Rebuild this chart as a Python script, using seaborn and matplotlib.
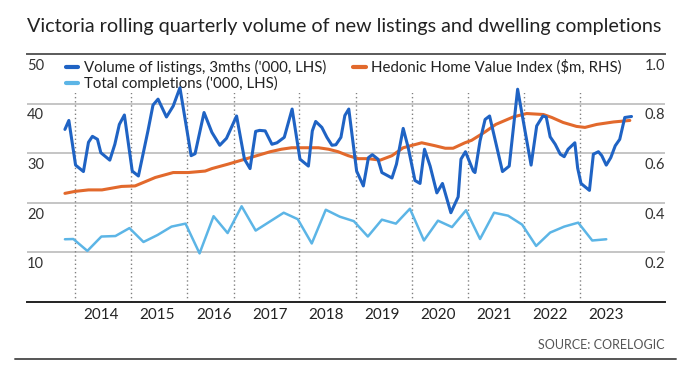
import pandas as pd
import matplotlib
matplotlib.use('Agg')
import matplotlib.pyplot as plt
from matplotlib.lines import Line2D
import seaborn as sns

# Values (x as fractional years)
listing_dates = [2013.82, 2013.89, 2014.01, 2014.15, 2014.24, 2014.31, 2014.40, 2014.46, 2014.62, 2014.71,
                 2014.79, 2014.88, 2015.02, 2015.13, 2015.30, 2015.39, 2015.48, 2015.63, 2015.75, 2015.87,
                 2016.07, 2016.14, 2016.30, 2016.44, 2016.58, 2016.70, 2016.88, 2017.02, 2017.12, 2017.22,
                 2017.29, 2017.39, 2017.51, 2017.60, 2017.73, 2017.87, 2018.01, 2018.16, 2018.23, 2018.29,
                 2018.40, 2018.49, 2018.58, 2018.65, 2018.74, 2018.81, 2018.88, 2019.02, 2019.14, 2019.23,
                 2019.30, 2019.40, 2019.47, 2019.65, 2019.73, 2019.85, 2019.94, 2020.06, 2020.15, 2020.23,
                 2020.33, 2020.45, 2020.55, 2020.70, 2020.83, 2020.88, 2020.96, 2021.10, 2021.13, 2021.22,
                 2021.31, 2021.39, 2021.62, 2021.74, 2021.89, 2022.13, 2022.23, 2022.34, 2022.40, 2022.47,
                 2022.56, 2022.65, 2022.72, 2022.79, 2022.91, 2022.96, 2023.02, 2023.17, 2023.24, 2023.33,
                 2023.39, 2023.47, 2023.55, 2023.63, 2023.71, 2023.80, 2023.92]
listings = [34.8, 36.6, 27.6, 26.3, 32.2, 33.4, 32.8, 30.1, 28.6, 31.8,
            35.8, 37.7, 26.4, 25.4, 34.5, 39.7, 40.9, 37.3, 39.5, 43.2,
            29.5, 29.9, 38.2, 34.2, 31.6, 33.0, 37.5, 28.8, 26.9, 34.4,
            34.6, 34.5, 31.8, 32.1, 33.2, 38.9, 28.8, 27.4, 34.5, 36.4,
            35.2, 33.2, 31.6, 31.7, 33.2, 37.6, 38.9, 26.4, 23.4, 29.1,
            29.7, 28.8, 26.1, 25.0, 27.8, 35.0, 31.1, 24.5, 23.9, 30.8,
            27.4, 22.0, 23.9, 18.0, 21.2, 28.8, 30.3, 26.4, 26.1, 32.5,
            36.8, 37.5, 26.3, 27.4, 42.9, 27.6, 35.5, 37.5, 37.3, 33.3,
            31.8, 29.8, 29.3, 30.8, 32.1, 27.0, 23.9, 22.5, 29.8, 30.3,
            29.5, 27.6, 29.1, 31.5, 32.8, 37.2, 37.4]

completion_dates = [2013.82, 2013.97, 2014.22, 2014.47, 2014.72, 2014.97, 2015.22, 2015.47, 2015.72, 2015.97,
                    2016.22, 2016.47, 2016.72, 2016.97, 2017.22, 2017.47, 2017.72, 2017.97, 2018.22, 2018.47,
                    2018.72, 2018.97, 2019.22, 2019.47, 2019.72, 2019.97, 2020.22, 2020.47, 2020.72, 2020.97,
                    2021.22, 2021.47, 2021.72, 2021.97, 2022.22, 2022.47, 2022.72, 2022.97, 2023.22, 2023.47]
completions = [12.65, 12.7, 10.3, 13.2, 13.3, 14.9, 12.1, 13.5, 15.2, 15.8,
               9.8, 17.3, 13.9, 19.3, 14.4, 16.2, 18.0, 16.7, 11.8, 18.6,
               17.2, 16.3, 13.2, 16.6, 15.8, 18.8, 12.4, 16.4, 15.1, 18.5,
               12.7, 18.0, 17.4, 15.6, 11.3, 14.0, 15.2, 16.0, 12.4, 12.65]

hedonic_dates = [2013.82, 2014.00, 2014.24, 2014.48, 2014.83, 2015.07, 2015.43, 2015.75, 2016.02, 2016.32,
                 2016.44, 2016.73, 2017.03, 2017.33, 2017.48, 2017.68, 2017.86, 2018.10, 2018.34, 2018.52,
                 2018.69, 2018.87, 2019.05, 2019.23, 2019.44, 2019.65, 2019.85, 2020.18, 2020.42, 2020.60,
                 2020.74, 2020.95, 2021.07, 2021.31, 2021.50, 2021.81, 2022.05, 2022.35, 2022.50, 2022.70,
                 2022.94, 2023.09, 2023.30, 2023.60, 2023.89]
hedonic = [0.438, 0.446, 0.452, 0.452, 0.466, 0.468, 0.502, 0.522, 0.522, 0.528,
           0.538, 0.556, 0.576, 0.596, 0.606, 0.616, 0.622, 0.622, 0.622, 0.616,
           0.606, 0.590, 0.578, 0.578, 0.572, 0.590, 0.622, 0.642, 0.630, 0.620,
           0.620, 0.642, 0.652, 0.686, 0.716, 0.746, 0.760, 0.756, 0.744, 0.724,
           0.708, 0.704, 0.716, 0.726, 0.732]

year_labels = ['2014', '2015', '2016', '2017', '2018', '2019', '2020', '2021', '2022', '2023']
year_separators = [2014, 2015, 2016, 2016.84, 2018, 2019, 2020, 2021, 2022, 2023]
left_ticks = [50, 40, 30, 20, 10]
right_ticks = [1.0, 0.8, 0.6, 0.4, 0.2]

BLUE = '#1f63c4'
LIGHT_BLUE = '#5cb5e6'
ORANGE = '#e2692c'
TEXT = '#222222'

listing_df = pd.DataFrame({'date': listing_dates, 'value': listings})
completion_df = pd.DataFrame({'date': completion_dates, 'value': completions})
hedonic_df = pd.DataFrame({'date': hedonic_dates, 'value': hedonic})

sns.set_style('white')
plt.rcParams['font.family'] = ['Lato', 'DejaVu Sans']

fig = plt.figure(figsize=(7, 3.79), dpi=100)
ax = fig.add_axes([27 / 700, 77 / 379, 638 / 700, 248 / 379])
ax2 = ax.twinx()
# left axis (blue lines, legend) drawn above the right axis (orange)
ax.set_zorder(ax2.get_zorder() + 1)
ax.patch.set_visible(False)

ax.set_xlim(2013.144, 2024.517)
ax.set_ylim(0, 50)
ax2.set_ylim(0, 1)

# grid and year separators on the bottom layer
for v in right_ticks[1:]:
    ax2.axhline(v, color='#b5b5b5', lw=1.1, zorder=0)
ax2.vlines(year_separators, 0, 0.903, colors='#808080', linestyles=(0, (1, 2)), lw=1, zorder=0)

sns.lineplot(data=hedonic_df, x='date', y='value', ax=ax2, color=ORANGE, lw=2.2,
             estimator=None, sort=False, legend=False, zorder=3)
sns.lineplot(data=completion_df, x='date', y='value', ax=ax, color=LIGHT_BLUE, lw=1.8,
             estimator=None, sort=False, legend=False, zorder=3)
sns.lineplot(data=listing_df, x='date', y='value', ax=ax, color=BLUE, lw=2.2,
             estimator=None, sort=False, legend=False, zorder=3.5)

for a in (ax, ax2):
    a.set_xlabel('')
    a.set_ylabel('')
    a.set_yticks([])
    for s in a.spines.values():
        s.set_visible(False)
ax.spines['top'].set_visible(True)
ax.spines['top'].set_color('#5a5a5a')
ax.spines['top'].set_linewidth(1.4)
ax.spines['bottom'].set_visible(True)
ax.spines['bottom'].set_color('#222222')
ax.spines['bottom'].set_linewidth(1.4)

ax.set_xticks([int(y) + 0.47 for y in year_labels])
ax.set_xticklabels(year_labels, fontsize=11, color=TEXT)
ax.tick_params(axis='x', length=0, pad=4)

for v in left_ticks:
    ax.annotate(str(v), xy=(0, v), xycoords=('axes fraction', 'data'), xytext=(0, -8.5),
                textcoords='offset points', ha='left', va='center', fontsize=10.5, color='#333333')
for v in right_ticks:
    ax2.annotate(f'{v:.1f}', xy=(1, v), xycoords=('axes fraction', 'data'), xytext=(0, -8.5),
                 textcoords='offset points', ha='right', va='center', fontsize=10.5, color='#333333')

handles = [Line2D([], [], color=BLUE, lw=3),
           Line2D([], [], color=LIGHT_BLUE, lw=3),
           Line2D([], [], color=ORANGE, lw=3)]
labels = ["Volume of listings, 3mths ('000, LHS)",
          "Total completions ('000, LHS)",
          "Hedonic Home Value Index ($m, RHS)"]
leg = ax.legend(handles, labels, ncol=2, loc='upper left', bbox_to_anchor=(37 / 638, 1 - 4 / 248),
                frameon=True, fancybox=False, facecolor='white', edgecolor='none', framealpha=1,
                fontsize=10.8, handlelength=0.85, handletextpad=0.35, columnspacing=1.8,
                labelspacing=0.1, borderpad=0.1, borderaxespad=0)
leg.set_zorder(2.5)
for t in leg.get_texts():
    t.set_color(TEXT)

fig.text(27 / 700, 1 - 32 / 379,
         'Victoria rolling quarterly volume of new listings and dwelling completions',
         ha='left', va='baseline', fontsize=14.2, color=TEXT)
fig.text(665 / 700, 1 - 345 / 379, 'SOURCE: CORELOGIC', ha='right', va='center',
         fontsize=9, color='#555555')
fig.add_artist(Line2D([15 / 700, 676 / 700], [1 - 359 / 379] * 2, transform=fig.transFigure,
                      color='#555555', lw=1.4))

fig.savefig('out.png', dpi=100)
